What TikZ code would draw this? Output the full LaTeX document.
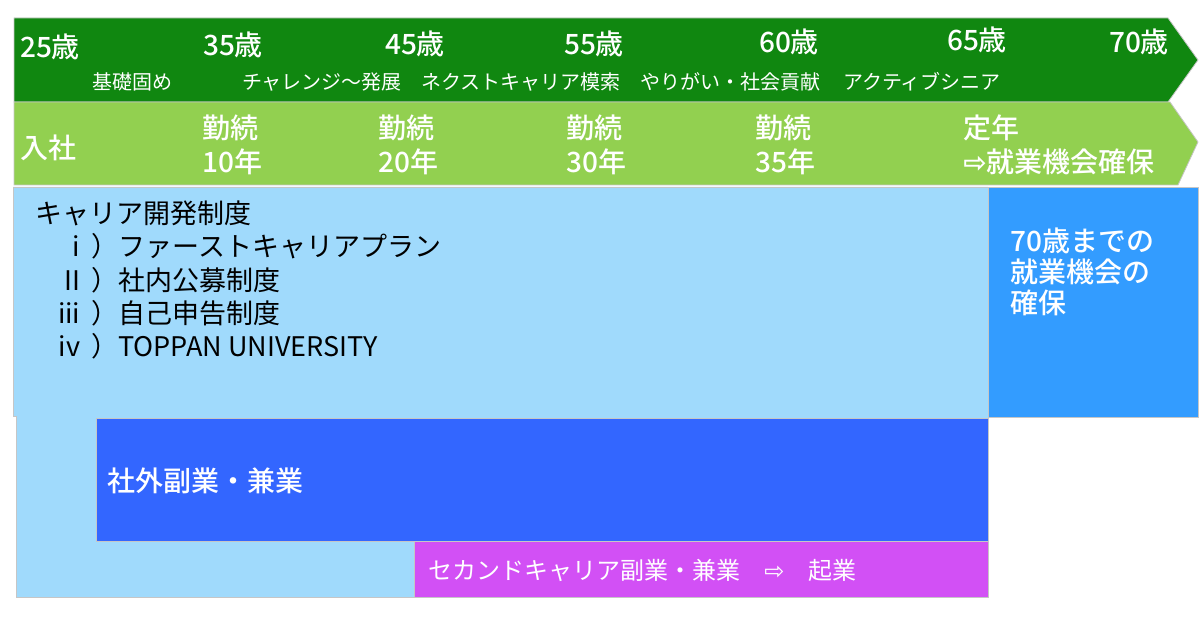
\documentclass[tikz,border=0pt]{standalone}
\usepackage{fontspec}
\setmainfont{Noto Sans CJK JP}[BoldFont={Noto Sans CJK JP Medium}]
\newfontfamily\arrowfont{DejaVu Sans}
\usepackage{tikz}
\usetikzlibrary{positioning}
\definecolor{stagegreen}{RGB}{16,135,16}
\definecolor{tenuregreen}{RGB}{146,208,80}
\definecolor{careerblue}{RGB}{160,218,252}
\definecolor{seniorblue}{RGB}{51,156,255}
\definecolor{sideblue}{RGB}{51,102,255}
\definecolor{secondviolet}{RGB}{210,80,245}
\tikzstyle{band}=[draw=gray!45, line width=0.4pt]
\tikzstyle{age}=[text=white, font=\bfseries\fontsize{14}{16}\selectfont, inner sep=0pt]
\tikzstyle{stage}=[text=white, font=\fontsize{10}{12}\selectfont, inner sep=0pt]
\tikzstyle{tenure}=[text=white, font=\bfseries\fontsize{14}{17}\selectfont, align=left, anchor=west, inner sep=0pt]
\tikzstyle{item}=[text=black, font=\fontsize{13.5}{16}\selectfont, anchor=west, inner sep=0pt]
\tikzstyle{boxtext}=[text=white, font=\bfseries\fontsize{14}{15.5}\selectfont, align=left, anchor=west, inner sep=0pt]
\newcommand{\numeral}[1]{\makebox[22.5pt][r]{#1}\hspace{5.5pt}}

\begin{document}
\begin{tikzpicture}[x=0.5pt,y=-0.5pt]
				\useasboundingbox(0,0)rectangle(1200,630);
				% bands and boxes
				\filldraw[band, fill=stagegreen](14,18)--(1168,18)--(1198,60)--(1168,102)--(14,102)--cycle;
				\filldraw[band, fill=tenuregreen](14,102)--(1170,102)--(1198,142)--(1178,185)--(14,185)--cycle;
				\filldraw[band, fill=careerblue](13,187)--(988,187)--(988,597)--(16,597)--(16,416)--(13,416)--cycle;
				\filldraw[band, fill=seniorblue](988,187)rectangle(1198,417);
				\filldraw[band, fill=sideblue](96,418)rectangle(988,541);
				\filldraw[band, fill=secondviolet](414,541)rectangle(988,597);
				% ages
				\node[age](a25)at(50,47){25歳};
				\node[age](a35)at(233,45){35歳};
				\node[age](a45)at(415,44){45歳};
				\node[age](a55)at(594,44){55歳};
				\node[age](a60)at(789,42){60歳};
				\node[age](a65)at(977,40){65歳};
				\node[age](a70)at(1139,42){70歳};
				% stages
				\node[stage](s1)at(132,82){基礎固め};
				\node[stage](s2)at(322,82){チャレンジ〜発展};
				\node[stage](s3)at(521,82){ネクストキャリア模索};
				\node[stage](s4)at(730,82){やりがい・社会貢献};
				\node[stage](s5)at(922,82){アクティブシニア};
				% tenure
				\node[tenure](t0)at(20,148){入社};
				\node[tenure](t10)at(202,145){勤続\\10年};
				\node[tenure](t20)at(378,145){勤続\\20年};
				\node[tenure](t30)at(566,145){勤続\\30年};
				\node[tenure](t35)at(755,145){勤続\\35年};
				\node[tenure](tret)at(963,145){定年\\{\arrowfont\bfseries ⇨}就業機会確保};
				% career development
				\node[item](cd)at(35,213){キャリア開発制度};
				\node[item](c1)at(35,246){\numeral{i}）ファーストキャリアプラン};
				\node[item](c2)at(35,280){\numeral{II}）社内公募制度};
				\node[item](c3)at(35,313){\numeral{iii}）自己申告制度};
				\node[item](c4)at(35,346){\numeral{iv}）TOPPAN UNIVERSITY};
				\node[boxtext](senior)at(1010,272){70歳までの\\就業機会の\\確保};
				\node[boxtext](side)at(107,481){社外副業・兼業};
				\node[boxtext, font=\fontsize{12}{14}\selectfont](second)at(428,570){セカンドキャリア副業・兼業\quad{\arrowfont ⇨}\quad 起業};
			\end{tikzpicture}
\end{document}
